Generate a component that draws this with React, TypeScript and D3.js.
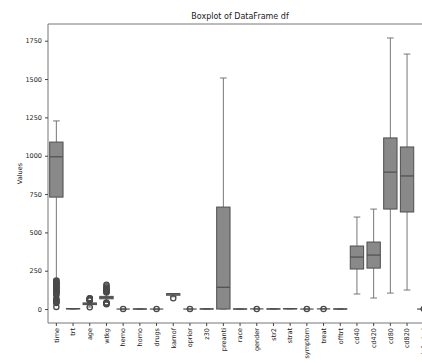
import React, { useEffect, useRef } from "react";
import * as d3 from "d3";

const categories = [
  "time", "trt", "age", "wtkg", "hemo", "homo", "drugs", "karnof", "oprior", "z30",
  "preanti", "race", "gender", "str2", "strat", "symptom", "treat", "offtrt",
  "cd40", "cd420", "cd80", "cd820", "infected",
];
const q1s = [730, 1, 29, 66.7, 0, 0, 0, 90, 0, 0, 0, 0, 1, 0, 1, 0, 1, 0, 261, 267, 652, 633, 0];
const medians = [993, 2, 34, 74.4, 0, 0, 0, 100, 0, 1, 142, 0, 1, 1, 2, 0, 1, 0, 339, 352, 893, 868, 0];
const q3s = [1089, 3, 40, 82.6, 0, 1, 0, 100, 0, 1, 665, 1, 1, 1, 3, 0, 1, 1, 411, 437, 1116, 1057, 0];
const whiskerLows = [195, 0, 13, 44, 0, 0, 0, 80, 0, 0, 0, 0, 1, 0, 1, 0, 1, 0, 98, 72, 104, 124, 0];
const whiskerHighs = [1227, 3, 56, 106, 0, 1, 0, 100, 0, 1, 1507, 1, 1, 1, 3, 0, 1, 1, 600, 652, 1768, 1663, 0];
const outliers = [
  [186, 180, 175, 170, 165, 160, 155, 150, 145, 140, 135, 130, 125, 120, 115, 110, 105, 100, 90, 66, 60, 55, 50, 45, 40, 14],
  [],
  [12, 57, 58, 60, 61, 63, 65, 67, 68, 70],
  [31, 34, 37, 40, 42, 108, 112, 116, 120, 124, 128, 133, 140, 149, 159],
  [1], [], [1], [70], [1], [], [], [], [0], [], [], [1], [0], [], [], [], [], [], [1],
];
const yTicks = [0, 250, 500, 750, 1000, 1250, 1500, 1750];

const BoxplotChart = () => {
  const chartRef = useRef(null);

  useEffect(() => {
    const width = 422;
    const height = 363;
    const left = 48;
    const top = 24;
    const bottom = 323;
    const right = left + categories.length * 16.7;

    const svg = d3.select(chartRef.current).attr("width", width).attr("height", height);

    const x = d3.scaleBand().domain(categories).range([left, right]).paddingInner(0).paddingOuter(0);
    const y = d3.scaleLinear().domain([-91, 1859]).range([bottom, top]);
    const bw = x.bandwidth() * 0.8;
    const font = "DejaVu Sans, sans-serif";

    // spines
    svg.append("line").attr("x1", left).attr("x2", left).attr("y1", top).attr("y2", bottom)
      .attr("stroke", "#777").attr("stroke-width", 1);
    svg.append("line").attr("x1", left).attr("x2", right).attr("y1", bottom).attr("y2", bottom)
      .attr("stroke", "#777").attr("stroke-width", 1);
    svg.append("line").attr("x1", left).attr("x2", right).attr("y1", top).attr("y2", top)
      .attr("stroke", "#777").attr("stroke-width", 1);

    // y axis
    const yAxis = svg.append("g").attr("transform", `translate(${left},0)`)
      .call(d3.axisLeft(y).tickValues(yTicks).tickFormat(d3.format("d")).tickSize(3).tickPadding(3));
    yAxis.select(".domain").remove();
    yAxis.selectAll("line").attr("stroke", "#444");
    yAxis.selectAll("text").attr("font-family", font).attr("font-size", 6.5).attr("fill", "#222");

    // x axis
    const xAxis = svg.append("g").attr("transform", `translate(0,${bottom})`)
      .call(d3.axisBottom(x).tickSize(3).tickPadding(2));
    xAxis.select(".domain").remove();
    xAxis.selectAll("line").attr("stroke", "#444");
    xAxis.selectAll("text")
      .attr("font-family", font).attr("font-size", 6.5).attr("fill", "#222")
      .attr("transform", "rotate(-90)")
      .attr("text-anchor", "end")
      .attr("x", -5).attr("y", 0).attr("dy", "0.35em");

    const g = svg.append("g");
    categories.forEach((c, i) => {
      const cx = x(c) + x.bandwidth() / 2;
      // whiskers
      g.append("line").attr("x1", cx).attr("x2", cx)
        .attr("y1", y(q3s[i])).attr("y2", y(whiskerHighs[i])).attr("stroke", "#777");
      g.append("line").attr("x1", cx).attr("x2", cx)
        .attr("y1", y(q1s[i])).attr("y2", y(whiskerLows[i])).attr("stroke", "#777");
      [whiskerLows[i], whiskerHighs[i]].forEach((v) => {
        g.append("line").attr("x1", cx - bw / 4).attr("x2", cx + bw / 4)
          .attr("y1", y(v)).attr("y2", y(v)).attr("stroke", "#777");
      });
      // box
      g.append("rect").attr("x", cx - bw / 2).attr("width", bw)
        .attr("y", y(q3s[i])).attr("height", Math.max(0, y(q1s[i]) - y(q3s[i])))
        .attr("fill", "#898989").attr("stroke", "#4f4f4f").attr("stroke-width", 1);
      g.append("line").attr("x1", cx - bw / 2).attr("x2", cx + bw / 2)
        .attr("y1", y(medians[i])).attr("y2", y(medians[i])).attr("stroke", "#4f4f4f").attr("stroke-width", 1.2);
      // fliers
      outliers[i].forEach((v) => {
        g.append("circle").attr("cx", cx).attr("cy", y(v)).attr("r", 2.6)
          .attr("fill", "none").attr("stroke", "#4a4a4a").attr("stroke-width", 1.3);
      });
    });

    svg.append("text").attr("x", 240).attr("y", 19).attr("text-anchor", "middle")
      .attr("font-family", font).attr("font-size", 8).attr("fill", "#222")
      .text("Boxplot of DataFrame df");

    svg.append("text").attr("transform", `translate(22,${(top + bottom) / 2}) rotate(-90)`)
      .attr("text-anchor", "middle")
      .attr("font-family", font).attr("font-size", 6.5).attr("fill", "#222")
      .text("Values");

    return () => {
      d3.select(chartRef.current).selectAll("*").remove();
    };
  }, []);

  return <svg ref={chartRef} style={{ position: "absolute", left: 0, top: 0, background: "#fff" }}></svg>;
};

export default function App() {
  return <BoxplotChart />;
}
